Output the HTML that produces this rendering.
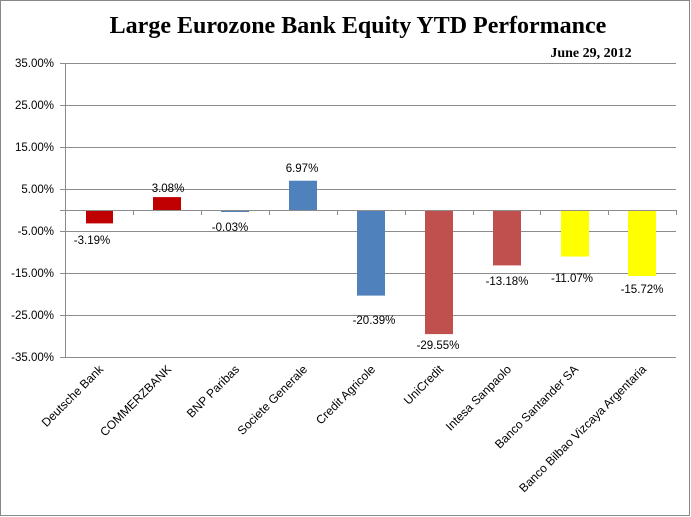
<!DOCTYPE html>
<html><head><meta charset="utf-8"><style>
body{margin:0;background:#fff}
svg{display:block}
text{font-family:"Liberation Sans",Arial,sans-serif}
</style></head><body>
<svg width="691" height="517" viewBox="0 0 691 517" xmlns="http://www.w3.org/2000/svg">
<rect x="0.5" y="0.5" width="689" height="515" fill="#fff" stroke="#888" stroke-width="1"/>
<text x="358" y="33" text-anchor="middle" font-weight="bold" font-size="24" style="font-family:'Liberation Serif',serif">Large Eurozone Bank Equity YTD Performance</text>
<text x="591" y="57" text-anchor="middle" font-weight="bold" font-size="14" style="font-family:'Liberation Serif',serif">June 29, 2012</text>
<g stroke="#8c8c8c" stroke-width="1">
<line x1="60" y1="63.5" x2="676" y2="63.5"/>
<line x1="60" y1="105.5" x2="676" y2="105.5"/>
<line x1="60" y1="147.5" x2="676" y2="147.5"/>
<line x1="60" y1="189.5" x2="676" y2="189.5"/>
<line x1="60" y1="231.5" x2="676" y2="231.5"/>
<line x1="60" y1="273.5" x2="676" y2="273.5"/>
<line x1="60" y1="315.5" x2="676" y2="315.5"/>
<line x1="60" y1="357.5" x2="676" y2="357.5"/>
<line x1="65.5" y1="63" x2="65.5" y2="357"/>
</g>
<g font-size="11.5" text-anchor="end" fill="#000">
<text x="54" y="67">35.00%</text>
<text x="54" y="109">25.00%</text>
<text x="54" y="151">15.00%</text>
<text x="54" y="193">5.00%</text>
<text x="54" y="235">-5.00%</text>
<text x="54" y="277">-15.00%</text>
<text x="54" y="319">-25.00%</text>
<text x="54" y="361">-35.00%</text>
</g>
<rect x="86" y="210" width="27" height="13.4" fill="#C00000"/>
<rect x="153" y="197.1" width="28" height="12.9" fill="#C00000"/>
<rect x="221" y="210" width="28" height="2" fill="#4F81BD"/>
<rect x="289" y="180.7" width="28" height="29.3" fill="#4F81BD"/>
<rect x="357" y="210" width="28" height="85.6" fill="#4F81BD"/>
<rect x="425" y="210" width="28" height="124.1" fill="#C0504D"/>
<rect x="493" y="210" width="28" height="55.4" fill="#C0504D"/>
<rect x="561" y="210" width="28" height="46.5" fill="#FFFF00"/>
<rect x="628" y="210" width="28" height="66" fill="#FFFF00"/>
<g stroke="#8c8c8c" stroke-width="1">
<line x1="60" y1="210.5" x2="676" y2="210.5"/>
<line x1="133.5" y1="210" x2="133.5" y2="215"/>
<line x1="201.5" y1="210" x2="201.5" y2="215"/>
<line x1="269.5" y1="210" x2="269.5" y2="215"/>
<line x1="337.5" y1="210" x2="337.5" y2="215"/>
<line x1="405.5" y1="210" x2="405.5" y2="215"/>
<line x1="473.5" y1="210" x2="473.5" y2="215"/>
<line x1="540.5" y1="210" x2="540.5" y2="215"/>
<line x1="608.5" y1="210" x2="608.5" y2="215"/>
<line x1="676.5" y1="210" x2="676.5" y2="215"/>
</g>
<g font-size="11.5" text-anchor="middle" fill="#000">
<text x="92" y="244">-3.19%</text>
<text x="168" y="192">3.08%</text>
<text x="230" y="231">-0.03%</text>
<text x="302" y="172">6.97%</text>
<text x="374" y="324">-20.39%</text>
<text x="438" y="349">-29.55%</text>
<text x="507" y="285">-13.18%</text>
<text x="572" y="282">-11.07%</text>
<text x="642" y="293">-15.72%</text>
</g>
<g font-size="12" text-anchor="end" fill="#000">
<text transform="translate(104,370) rotate(-45)">Deutsche Bank</text>
<text transform="translate(172,370) rotate(-45)">COMMERZBANK</text>
<text transform="translate(240,370) rotate(-45)">BNP Paribas</text>
<text transform="translate(308,370) rotate(-45)">Societe Generale</text>
<text transform="translate(376,370) rotate(-45)">Credit Agricole</text>
<text transform="translate(444,370) rotate(-45)">UniCredit</text>
<text transform="translate(512,370) rotate(-45)">Intesa Sanpaolo</text>
<text transform="translate(579,370) rotate(-45)">Banco Santander SA</text>
<text transform="translate(647,370) rotate(-45)">Banco Bilbao Vizcaya Argentaria</text>
</g>
</svg>
</body></html>
